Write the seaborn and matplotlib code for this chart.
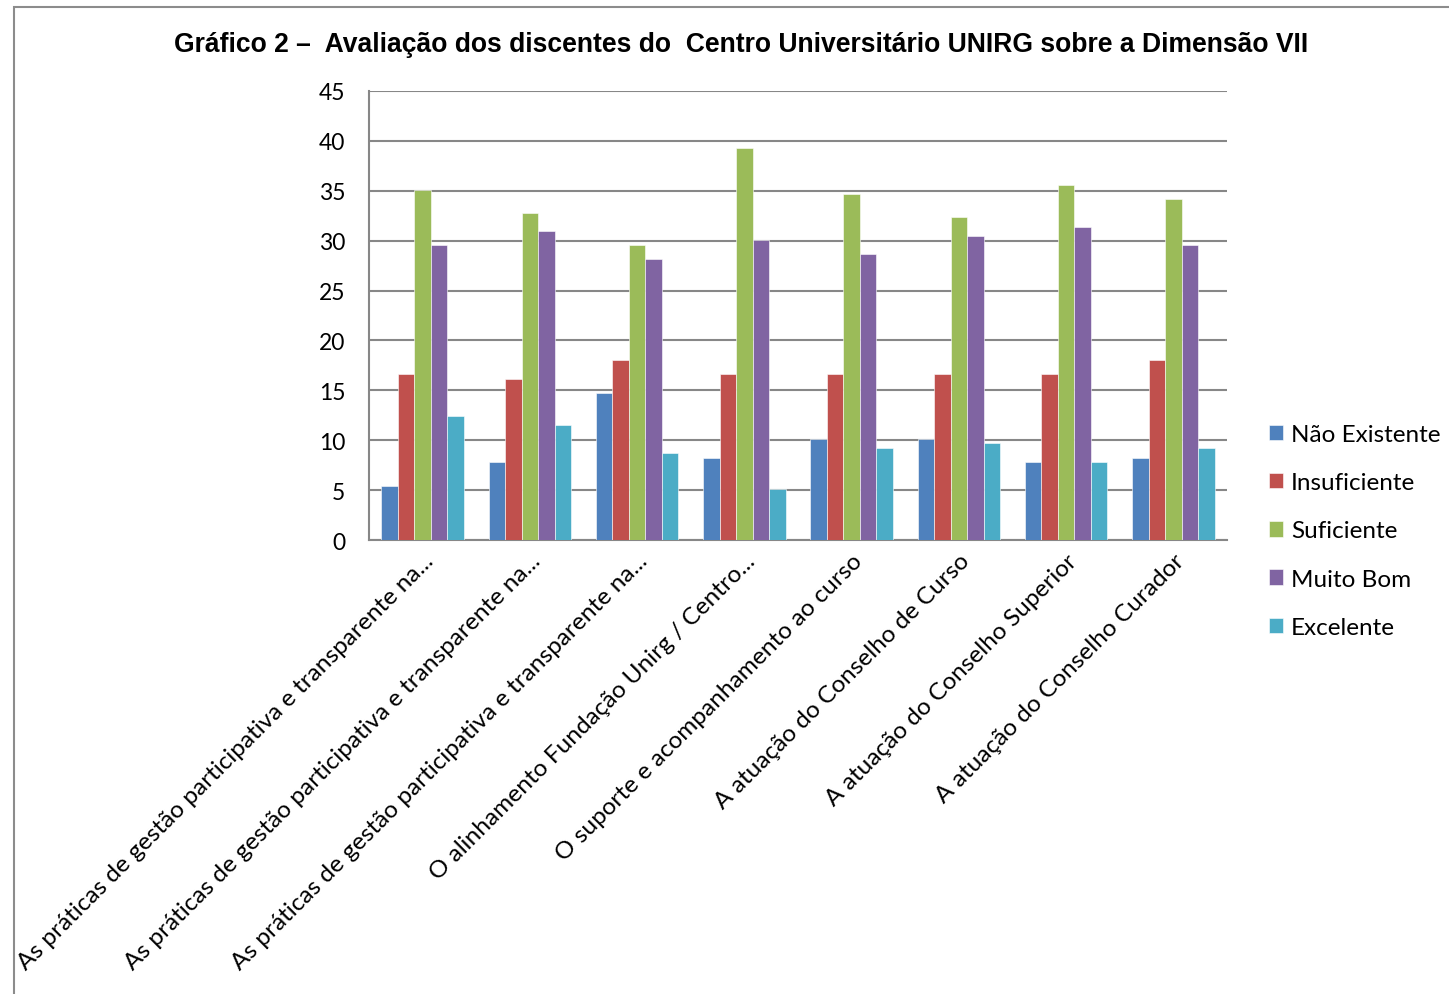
import pandas as pd
import matplotlib.pyplot as plt
import seaborn as sns
from matplotlib.patches import Rectangle

# values
categorias = [
    'As práticas de gestão participativa e transparente na...',
    'As práticas de gestão participativa e transparente na...',
    'As práticas de gestão participativa e transparente na...',
    'O alinhamento Fundação Unirg / Centro...',
    'O suporte e acompanhamento ao curso',
    'A atuação do Conselho de Curso',
    'A atuação do Conselho Superior',
    'A atuação do Conselho Curador',
]
nao_existente = [5.4, 7.8, 14.7, 8.2, 10.1, 10.1, 7.8, 8.2]
insuficiente = [16.6, 16.1, 18.0, 16.6, 16.6, 16.6, 16.6, 18.0]
suficiente = [35.1, 32.8, 29.6, 39.3, 34.7, 32.4, 35.6, 34.2]
muito_bom = [29.6, 31.0, 28.2, 30.1, 28.7, 30.5, 31.4, 29.6]
excelente = [12.4, 11.5, 8.7, 5.1, 9.2, 9.7, 7.8, 9.2]

niveis = ['Não Existente', 'Insuficiente', 'Suficiente', 'Muito Bom', 'Excelente']
cores = ['#4F81BD', '#C0504D', '#9BBB59', '#8064A2', '#4BACC6']

series = [nao_existente, insuficiente, suficiente, muito_bom, excelente]
rows = []
for nivel, vals in zip(niveis, series):
    for i, v in enumerate(vals):
        rows.append({'item': i, 'nivel': nivel, 'valor': v})
df = pd.DataFrame(rows)

sns.set_style('white')
plt.rcParams['font.family'] = ['Lato', 'DejaVu Sans']
plt.rcParams['text.color'] = 'black'

fig = plt.figure(figsize=(14.49, 9.95), dpi=100)
ax = fig.add_axes([369 / 1449, 1 - 541 / 995, 858 / 1449, 449 / 995])

sns.barplot(data=df, x='item', y='valor', hue='nivel', hue_order=niveis,
            palette=cores, width=0.77, gap=0, saturation=1, ax=ax,
            edgecolor='white', linewidth=0.4, zorder=3)

grid_col = '#878787'
ax.set_ylim(0, 45)
ax.set_yticks(range(0, 46, 5))
ax.set_xlim(-0.5, 7.5)
ax.yaxis.grid(True, color=grid_col, linewidth=1.5, zorder=0)
ax.set_axisbelow(True)
for s in ['top', 'right']:
    ax.spines[s].set_visible(False)
for s in ['left', 'bottom']:
    ax.spines[s].set_color(grid_col)
    ax.spines[s].set_linewidth(1.5)
ax.tick_params(axis='y', length=6, width=1.5, color=grid_col, labelsize=16.5,
               labelcolor='black', pad=11)

# category labels, ticks only between groups
ax.set_xticks(range(8))
ax.set_xticklabels(categorias, rotation=45, ha='right', va='top',
                   rotation_mode='anchor', fontsize=17.6)
ax.tick_params(axis='x', which='major', length=0, pad=7, labelcolor='black')
ax.set_xticks([i - 0.5 for i in range(9)], minor=True)
ax.tick_params(axis='x', which='minor', length=7, width=1.5, color=grid_col)
ax.set_xlabel('')
ax.set_ylabel('')

handles, labels = ax.get_legend_handles_labels()
ax.legend_.remove()
fig.legend(handles, labels, loc='center left', bbox_to_anchor=(1247 / 1449, 1 - 532 / 995),
           frameon=False, fontsize=17.5, handlelength=0.6, handleheight=0.6,
           handletextpad=0.3, labelspacing=1.12)

fig.text(741 / 1449, 1 - 45 / 995,
         'Gráfico 2 –  Avaliação dos discentes do  Centro Universitário UNIRG sobre a Dimensão VII',
         ha='center', va='center', fontsize=19.1, fontweight='bold', color='black',
         family=['Liberation Sans', 'DejaVu Sans'])

# outer chart frame
fig.patches.append(Rectangle((14 / 1449, -0.1), 1.2, 1.1 - 8 / 995,
                             transform=fig.transFigure, fill=False,
                             edgecolor='#8c8c8c', linewidth=1.5))

fig.savefig('out.png', dpi=100)
